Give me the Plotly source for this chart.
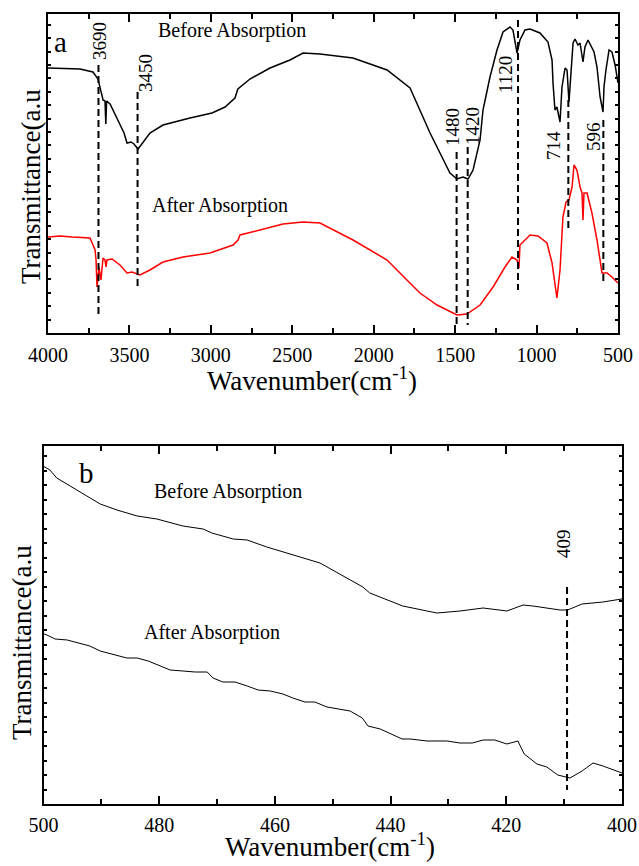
import plotly.graph_objects as go

W, H = 639, 866
def PX(x): return x / W
def PY(y): return 1 - y / H

FONT = "Liberation Serif, Times New Roman, serif"

# ---------------- Panel a (4000-500 cm-1) ----------------
wn_before_a = [4000, 3804, 3724, 3693, 3662, 3650, 3645, 3640, 3619, 3576, 3533, 3515, 3490, 3472, 3447,
               3374, 3294, 3128, 2993, 2913, 2852, 2834, 2760, 2637, 2514, 2434, 2360, 2330, 2127, 1918,
               1777, 1716, 1654, 1593, 1532, 1489, 1452, 1421, 1390, 1347, 1329, 1286, 1243, 1206, 1163,
               1145, 1120, 1102, 1071, 1040, 979, 930, 905, 899, 887, 875, 856, 844, 825, 813, 801, 776,
               764, 746, 733, 715, 703, 684, 660, 647, 629, 610, 592, 586, 574, 555, 537, 518, 500]
t_before_a = [265, 264, 261, 254, 233, 232, 209, 232, 229, 215, 200, 190, 191, 189, 184,
              200, 208, 215, 220, 226, 235, 244, 254, 265, 273, 280, 279, 279, 275, 263,
              245, 223, 200, 180, 160, 154, 156, 154, 163, 193, 223, 256, 283, 301, 306,
              303, 280, 293, 303, 304, 300, 291, 273, 250, 223, 226, 211, 246, 265, 263, 231, 290,
              294, 288, 290, 271, 286, 293, 285, 281, 266, 236, 221, 246, 263, 283, 281, 268, 250]

wn_after_a = [4000, 3926, 3850, 3742, 3711, 3705, 3699, 3687, 3675, 3662, 3650, 3644, 3638, 3607, 3558,
              3515, 3484, 3435, 3374, 3294, 3171, 3005, 2864, 2833, 2821, 2698, 2557, 2434, 2348, 2330,
              2127, 1918, 1796, 1716, 1611, 1489, 1427, 1347, 1267, 1194, 1151, 1120, 1108, 1102, 1040,
              991, 936, 905, 875, 856, 838, 819, 801, 782, 770, 752, 733, 721, 715, 709, 690, 660, 629,
              598, 567, 537, 500]
t_after_a = [96, 97, 96, 95, 83, 73, 46, 66, 53, 75, 73, 66, 73, 74, 68,
             60, 61, 58, 63, 71, 76, 80, 88, 93, 98, 103, 109, 111, 110, 110,
             93, 73, 53, 40, 28, 18, 19, 28, 46, 66, 76, 73, 65, 88, 98,
             97, 90, 70, 35, 63, 116, 131, 133, 146, 168, 163, 146, 140, 113, 140, 140, 120, 93,
             60, 60, 56, 50]

peak_pos_a = [3690, 3450, 1491, 1423, 1114, 805, 590]
peak_labels_a = ["3690", "3450", "1480", "1420", "1120", "714", "596"]
peak_top_a = [268, 241, 181, 186, 313, 233, 213]
peak_bot_a = [16, 43, 6, 8, 43, 105, 50]
label_x_a = [3681, 3404, 1519, 1397, 1194, 899, 653]
label_y_a = [292, 260, 206, 207, 259, 187, 196]

xticks_a = [4000, 3500, 3000, 2500, 2000, 1500, 1000, 500]

# ---------------- Panel b (500-400 cm-1) ----------------
wn_before_b = [500.95, 498.9, 497.7, 494.2, 490.2, 487.3, 483.8, 480.4, 475.9, 472.4, 470.9, 467.2,
               464.8, 461.4, 456.9, 452.2, 444.8, 443.6, 437.9, 432.0, 428.0, 424.0, 419.9, 417.1,
               415.4, 410.7, 409.4, 406.9, 403.3, 400.0, 399.0]
t_before_b = [341, 334, 326, 314, 300, 294, 288, 285, 278, 275, 271, 265,
              264, 257, 249, 241, 217, 211, 198, 191, 193, 196, 193, 199,
              198, 194, 194, 200, 202, 205, 206]

wn_after_b = [500.95, 499.4, 498.0, 495.9, 492.0, 490.2, 485.6, 483.8, 481.9, 479.9, 478.1, 475.9,
              473.8, 471.7, 470.7, 469.0, 466.9, 464.8, 462.9, 460.8, 458.6, 456.9, 454.8, 453.1,
              452.2, 451.0, 447.0, 444.9, 443.9, 441.8, 438.0, 436.6, 433.7, 430.2, 428.0, 425.9,
              424.0, 422.0, 419.9, 418.0, 416.9, 414.7, 413.0, 411.1, 409.0, 406.9, 405.0, 403.3,
              400.0, 399.0]
t_after_b = [172, 169, 165, 164, 158, 153, 146, 146, 143, 138, 134, 133,
             132, 132, 126, 122, 122, 118, 114, 113, 110, 106, 102, 102,
             100, 97, 93, 86, 78, 75, 65, 65, 63, 63, 61, 61,
             64, 64, 60, 63, 50, 40, 37, 29, 26, 33, 41, 38,
             31, 28]

peak_pos_b = [409.5]
peak_labels_b = ["409"]
peak_top_b = [217]
peak_bot_b = [14]
label_x_b = [410.2]
label_y_b = [261]

xticks_b = [500, 480, 460, 440, 420, 400]

fig = go.Figure()

fig.add_trace(go.Scatter(x=wn_before_a, y=t_before_a, mode="lines",
                         line=dict(color="black", width=1.5), xaxis="x", yaxis="y", showlegend=False))
fig.add_trace(go.Scatter(x=wn_after_a, y=t_after_a, mode="lines",
                         line=dict(color="#ff0000", width=1.5), xaxis="x", yaxis="y", showlegend=False))
for p, y0, y1 in zip(peak_pos_a, peak_top_a, peak_bot_a):
    fig.add_trace(go.Scatter(x=[p, p], y=[y0, y1], mode="lines",
                             line=dict(color="black", width=2, dash="7px,4px"),
                             xaxis="x", yaxis="y", showlegend=False))

fig.add_trace(go.Scatter(x=wn_before_b, y=t_before_b, mode="lines",
                         line=dict(color="black", width=1), xaxis="x2", yaxis="y2", showlegend=False))
fig.add_trace(go.Scatter(x=wn_after_b, y=t_after_b, mode="lines",
                         line=dict(color="black", width=1), xaxis="x2", yaxis="y2", showlegend=False))
for p, y0, y1 in zip(peak_pos_b, peak_top_b, peak_bot_b):
    fig.add_trace(go.Scatter(x=[p, p], y=[y0, y1], mode="lines",
                             line=dict(color="black", width=2, dash="7px,4px"),
                             xaxis="x2", yaxis="y2", showlegend=False))

axis_common = dict(showline=True, linecolor="black", linewidth=2, mirror="ticks",
                   showgrid=False, zeroline=False, color="black", automargin=False)

fig.update_layout(
    width=W, height=H,
    margin=dict(l=0, r=0, t=0, b=0, pad=0, autoexpand=False),
    paper_bgcolor="white", plot_bgcolor="white",
    font=dict(family=FONT, color="black", size=20),
    xaxis=dict(domain=[PX(48), PX(618)], anchor="y", range=[4000, 500],
               tickvals=xticks_a, ticks="inside", ticklen=8, tickwidth=2,
               minor=dict(ticks="inside", ticklen=5, tickwidth=1.5, dtick=250),
               tickfont=dict(size=20, family=FONT), ticklabelstandoff=3, **axis_common),
    yaxis=dict(domain=[PY(333), PY(14)], anchor="x", range=[0, 319],
               tick0=0, dtick=13.4, ticks="inside", ticklen=3, tickwidth=2,
               showticklabels=False, **axis_common),
    xaxis2=dict(domain=[PX(43.5), PX(622)], anchor="y2", range=[500, 400],
                tickvals=xticks_b, ticks="inside", ticklen=8, tickwidth=2,
                minor=dict(ticks="inside", ticklen=5, tickwidth=1.5, dtick=10),
                tickfont=dict(size=20, family=FONT), ticklabelstandoff=2, **axis_common),
    yaxis2=dict(domain=[PY(804), PY(446)], anchor="x2", range=[0, 358],
                tick0=0, dtick=14.5, ticks="inside", ticklen=3, tickwidth=2,
                showticklabels=False, **axis_common),
)

ann = []
# peak labels
for lx, ly, txt in zip(label_x_a, label_y_a, peak_labels_a):
    ann.append(dict(x=lx, y=ly, xref="x", yref="y", text=txt, textangle=-90, showarrow=False,
                    xanchor="center", yanchor="middle", font=dict(size=19, family=FONT)))
for lx, ly, txt in zip(label_x_b, label_y_b, peak_labels_b):
    ann.append(dict(x=lx, y=ly, xref="x2", yref="y2", text=txt, textangle=-90, showarrow=False,
                    xanchor="center", yanchor="middle", font=dict(size=19, family=FONT)))
# panel texts
c = dict(showarrow=False, xanchor="center", yanchor="middle")
ann += [
    dict(x=3926, y=291, xref="x", yref="y", text="a", font=dict(size=29, family=FONT), **c),
    dict(x=2870, y=302, xref="x", yref="y", text="Before Absorption", font=dict(size=20, family=FONT), **c),
    dict(x=2944, y=128, xref="x", yref="y", text="After Absorption", font=dict(size=20, family=FONT), **c),
    dict(x=492.5, y=331, xref="x2", yref="y2", text="b", font=dict(size=29, family=FONT), **c),
    dict(x=468.1, y=312, xref="x2", yref="y2", text="Before Absorption", font=dict(size=20, family=FONT), **c),
    dict(x=470.9, y=172, xref="x2", yref="y2", text="After Absorption", font=dict(size=20, family=FONT), **c),
    # axis titles
    dict(x=PX(312), y=PY(398), xref="paper", yref="paper", text="Wavenumber(cm<sup>-1</sup>)",
         showarrow=False, xanchor="center", yanchor="bottom", font=dict(size=27, family=FONT)),
    dict(x=PX(330), y=PY(864), xref="paper", yref="paper", text="Wavenumber(cm<sup>-1</sup>)",
         showarrow=False, xanchor="center", yanchor="bottom", font=dict(size=27, family=FONT)),
    dict(x=PX(31), y=PY(187), xref="paper", yref="paper", text="Transmittance(a.u", textangle=-90,
         font=dict(size=27, family=FONT), **c),
    dict(x=PX(22), y=PY(643), xref="paper", yref="paper", text="Transmittance(a.u", textangle=-90,
         font=dict(size=27, family=FONT), **c),
]
fig.update_layout(annotations=ann)

fig.write_html("out.html", config={"displayModeBar": False},
               post_script="document.body.style.margin='0px';document.body.style.padding='0px';")
